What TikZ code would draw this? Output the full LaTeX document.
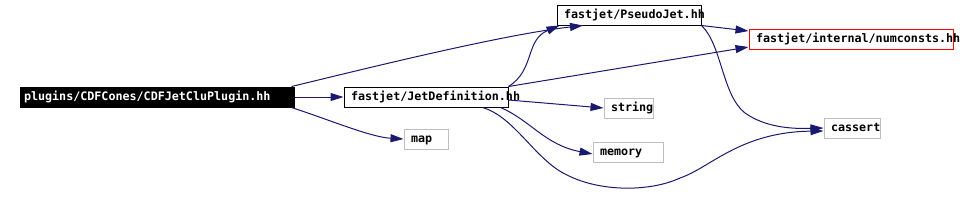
\documentclass[tikz,border=0pt]{standalone}
\usepackage{fontspec}
\newfontfamily\incfont{DejaVu Sans Mono}
\usetikzlibrary{arrows.meta}
\definecolor{edgeblue}{RGB}{25,25,112}
\definecolor{extgray}{RGB}{191,191,191}

\begin{document}
\begin{tikzpicture}[x=1pt, y=-1pt,
  font=\fontsize{11.7}{13}\selectfont\incfont\bfseries,
  hdr/.style={draw=#1, fill=white, line width=1pt, align=left,
    inner xsep=7pt, inner ysep=2pt, minimum height=20pt,
    text height=8.5pt, text depth=2.5pt},
  hdr/.default=extgray,
  top/.style={draw=black, fill=black, text=white, line width=1pt, align=left,
    inner xsep=4pt, inner ysep=2pt, minimum height=20pt,
    text height=8.5pt, text depth=2.5pt},
  inc/.style={-{Triangle[length=13pt, width=8pt]}, line width=1pt, draw=edgeblue},
]
\useasboundingbox (0,0) rectangle (969,217);
% the file itself
\node[top, text width=266pt] (plugin) at (157,97) {plugins/CDFCones/CDFJetCluPlugin.hh};
% fastjet headers
\node[hdr=black, text width=150pt] (jetdef) at (426,97) {fastjet/JetDefinition.hh};
\node[hdr=black, text width=130pt] (pseudo) at (629,15) {fastjet/PseudoJet.hh};
\node[hdr=red, text width=190pt] (numconsts) at (851,39) {fastjet/internal/numconsts.hh};
% system headers
\node[hdr, text width=35pt] (string) at (628.5,108) {string};
\node[hdr, text width=30pt] (map) at (426,139) {map};
\node[hdr, text width=56pt] (memory) at (628,152) {memory};
\node[hdr, text width=42pt] (cassert) at (852,128) {cassert};
% includes
\draw[inc] (plugin) -- (jetdef);
\draw[inc] ([xshift=-3pt]plugin.north east) .. controls (360,70) and (500,35) .. ([xshift=-46pt]pseudo.south);
\draw[inc] ([xshift=-3pt]plugin.south east) .. controls (330,120) and (370,137) .. (map.west);
\draw[inc] ([yshift=-3pt]jetdef.east) -- (string.west);
\draw[inc] (jetdef.north east) .. controls (535,70) and (525,40) .. ([xshift=3pt]pseudo.south west);
\draw[inc] (jetdef.north east) -- ([yshift=-8pt]numconsts.west);
\draw[inc] ([xshift=-8pt]jetdef.south east) .. controls (530,120) and (545,145) .. ([yshift=-2pt]memory.west);
\draw[inc] ([xshift=-26pt]jetdef.south east) .. controls (515,117) and (535,160) .. (567,175)
  .. controls (600,192) and (650,192) .. (680,178)
  .. controls (710,168) and (740,132) .. ([yshift=-3pt]cassert.west);
\draw[inc] (pseudo.south east) -- ([yshift=8pt]numconsts.west);
\draw[inc] (pseudo.south east) .. controls (722,45) and (722,95) .. (745,113)
  .. controls (765,127) and (790,129) .. ([yshift=0pt]cassert.west);
\end{tikzpicture}
\end{document}
